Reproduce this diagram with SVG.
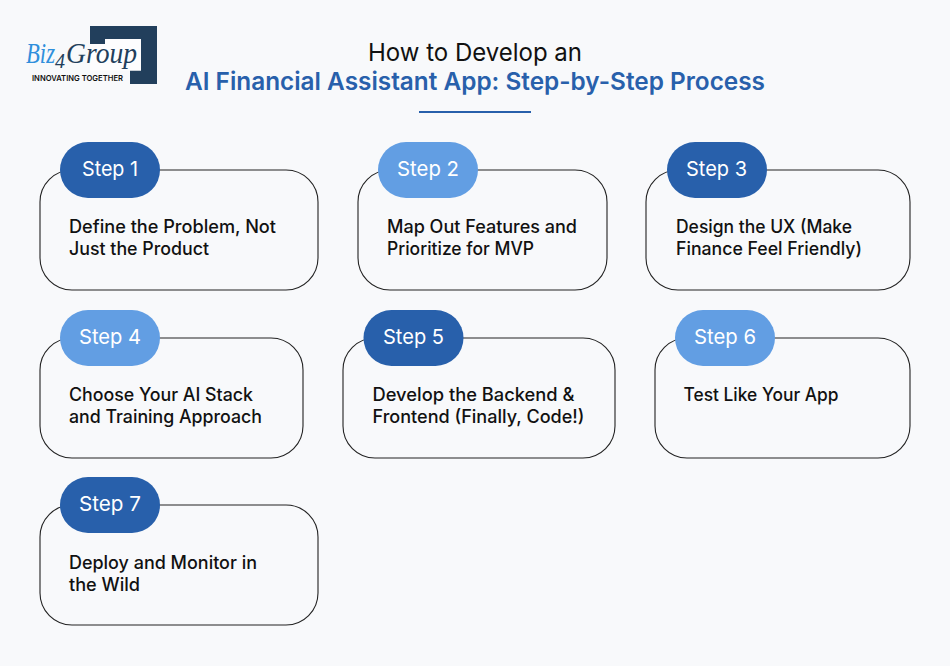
<svg xmlns="http://www.w3.org/2000/svg" width="950" height="666" viewBox="0 0 950 666">
<style>
text{font-family:"Inter","Liberation Sans",sans-serif}
.card{fill:#f8f9fb;stroke:#222;stroke-width:1.1}
.pill{stroke:none}
.dark{fill:#2860ab}
.light{fill:#629ee3}
.pt{fill:#fff;font-size:20.5px;font-weight:400}
.bt{fill:#111;font-size:18px;font-weight:500}
.lg{font-family:"Liberation Serif",serif;font-style:italic}
</style>
<rect width="950" height="666" fill="#f8f9fb"/>
<g id="logo">
<path d="M90 26H157V84H130V70.500H141V39H105V44H90Z" fill="#223f5c"/>
<rect x="90" y="44" width="51" height="26.500" fill="#fdfdfe"/>
<rect x="105" y="39" width="36" height="5" fill="#fdfdfe"/>
<text class="lg" x="26" y="62.500" font-size="29" fill="#2f8fdc" textLength="29" lengthAdjust="spacingAndGlyphs">Biz</text>
<text class="lg" x="55" y="68" font-size="20" fill="#223f5c" textLength="10" lengthAdjust="spacingAndGlyphs">4</text>
<text class="lg" x="66" y="62.500" font-size="29" fill="#223f5c" textLength="71" lengthAdjust="spacingAndGlyphs">Group</text>
<text x="32" y="80.500" font-size="8" font-weight="600" fill="#111" textLength="91" lengthAdjust="spacingAndGlyphs">INNOVATING TOGETHER</text>
</g>
<g id="title">
<text x="475" y="60.500" text-anchor="middle" font-size="24.500" fill="#111" textLength="214" lengthAdjust="spacingAndGlyphs">How to Develop an</text>
<text x="475" y="90" text-anchor="middle" font-size="24.500" font-weight="600" fill="#2860ab" textLength="580" lengthAdjust="spacingAndGlyphs">AI Financial Assistant App: Step-by-Step Process</text>
<rect x="419" y="111" width="112" height="2" fill="#2860ab"/>
</g>
<g id="connectors"></g>
<g id="step1">
<rect class="card" x="40" y="170" width="278" height="120" rx="32"/>
<rect class="pill dark" x="60" y="142" width="100" height="56" rx="28"/>
<text class="pt" x="82" y="176" textLength="56" lengthAdjust="spacingAndGlyphs">Step 1</text>
<text class="bt" x="69" y="233" textLength="207" lengthAdjust="spacingAndGlyphs">Define the Problem, Not</text>
<text class="bt" x="69" y="255" textLength="140" lengthAdjust="spacingAndGlyphs">Just the Product</text>
</g>
<g id="step2">
<rect class="card" x="358" y="170" width="249" height="120" rx="32"/>
<rect class="pill light" x="378" y="142" width="100" height="56" rx="28"/>
<text class="pt" x="397" y="176" textLength="62" lengthAdjust="spacingAndGlyphs">Step 2</text>
<text class="bt" x="387" y="233" textLength="190" lengthAdjust="spacingAndGlyphs">Map Out Features and</text>
<text class="bt" x="387" y="255" textLength="147" lengthAdjust="spacingAndGlyphs">Prioritize for MVP</text>
</g>
<g id="step3">
<rect class="card" x="646" y="170" width="264" height="120" rx="32"/>
<rect class="pill dark" x="667" y="142" width="100" height="56" rx="28"/>
<text class="pt" x="686" y="176" textLength="61" lengthAdjust="spacingAndGlyphs">Step 3</text>
<text class="bt" x="676" y="233" textLength="176" lengthAdjust="spacingAndGlyphs">Design the UX (Make</text>
<text class="bt" x="676" y="255" textLength="186" lengthAdjust="spacingAndGlyphs">Finance Feel Friendly)</text>
</g>
<g id="step4">
<rect class="card" x="40" y="338" width="263" height="120" rx="32"/>
<rect class="pill light" x="60" y="310" width="100" height="56" rx="28"/>
<text class="pt" x="79" y="344" textLength="62" lengthAdjust="spacingAndGlyphs">Step 4</text>
<text class="bt" x="69" y="401" textLength="184" lengthAdjust="spacingAndGlyphs">Choose Your AI Stack</text>
<text class="bt" x="69" y="423" textLength="193" lengthAdjust="spacingAndGlyphs">and Training Approach</text>
</g>
<g id="step5">
<rect class="card" x="343" y="338" width="272" height="120" rx="32"/>
<rect class="pill dark" x="363.500" y="310" width="100" height="56" rx="28"/>
<text class="pt" x="383" y="344" textLength="61" lengthAdjust="spacingAndGlyphs">Step 5</text>
<text class="bt" x="372.500" y="401" textLength="202" lengthAdjust="spacingAndGlyphs">Develop the Backend &amp;</text>
<text class="bt" x="372.500" y="423" textLength="212" lengthAdjust="spacingAndGlyphs">Frontend (Finally, Code!)</text>
</g>
<g id="step6">
<rect class="card" x="655" y="338" width="255" height="120" rx="32"/>
<rect class="pill light" x="675" y="310" width="100" height="56" rx="28"/>
<text class="pt" x="694" y="344" textLength="62" lengthAdjust="spacingAndGlyphs">Step 6</text>
<text class="bt" x="683.500" y="401" textLength="155" lengthAdjust="spacingAndGlyphs">Test Like Your App</text>
</g>
<g id="step7">
<rect class="card" x="40" y="505" width="278" height="120" rx="32"/>
<rect class="pill dark" x="60" y="477" width="100" height="56" rx="28"/>
<text class="pt" x="79" y="511" textLength="62" lengthAdjust="spacingAndGlyphs">Step 7</text>
<text class="bt" x="69" y="569" textLength="188" lengthAdjust="spacingAndGlyphs">Deploy and Monitor in</text>
<text class="bt" x="69" y="591" textLength="71" lengthAdjust="spacingAndGlyphs">the Wild</text>
</g>
</svg>
